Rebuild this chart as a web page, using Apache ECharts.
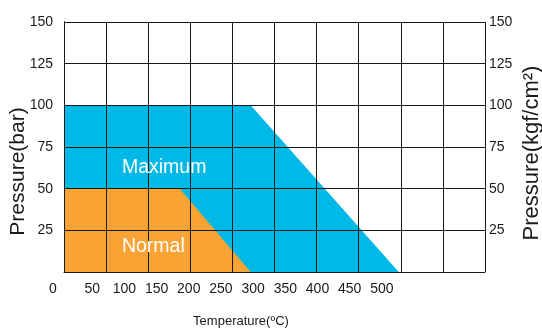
<!DOCTYPE html>
<html>
<head>
<meta charset="utf-8">
<script src="https://cdn.jsdelivr.net/npm/echarts@6/dist/echarts.min.js"></script>
<style>
  html, body { margin: 0; padding: 0; background: #fff; }
  #chart { width: 542px; height: 329px; }
</style>
</head>
<body>
<div id="chart"></div>
<script>
// Pressure / temperature rating envelope
const tempTicks = [0, 50, 100, 150, 200, 250, 300, 350, 400, 450, 500];
const pressureTicks = [25, 50, 75, 100, 125, 150];
// [temperature °C, pressure bar]
const maximumCurve = [[0, 100], [290, 100], [520, 0]];
const normalCurve = [[0, 50], [180, 50], [290, 0]];
const regionNames = ['Maximum', 'Normal'];
const gridColumns = 10;

const FONT = "'Liberation Sans', Arial, Helvetica, sans-serif";
const INK = '#1a1a1a';
const BLUE = '#00b9e6';
const ORANGE = '#f8a333';

const chart = echarts.init(document.getElementById('chart'), null, { renderer: 'canvas' });

const yAxisBase = {
  type: 'value',
  min: 0,
  max: 150,
  interval: 25,
  z: 5,
  axisTick: { show: false },
  axisLine: { show: true, lineStyle: { color: INK, width: 1 } },
  nameLocation: 'middle',
  nameMoveOverlap: false,
  nameTextStyle: { fontFamily: FONT, fontSize: 21, color: INK },
  axisLabel: {
    fontFamily: FONT,
    fontSize: 14,
    color: INK,
    formatter: v => (pressureTicks.includes(v) ? String(v) : '')
  }
};

const option = {
  animation: false,
  grid: { left: 64, right: 57, top: 22, bottom: 57, outerBoundsMode: 'none', containLabel: false },
  xAxis: [
    {
      type: 'value',
      min: 0,
      max: 654,
      interval: 50,
      position: 'bottom',
      z: 5,
      axisLine: { show: true, lineStyle: { color: INK, width: 1 } },
      axisTick: { show: false },
      splitLine: { show: false },
      axisLabel: {
        margin: 10,
        color: INK,
        fontFamily: FONT,
        fontSize: 14,
        formatter: v => {
          if (!tempTicks.includes(v)) return '';
          return v === 0 ? '{z|0}' : '{s|' + v + '}';
        },
        rich: {
          s: { fontFamily: FONT, fontSize: 14, color: INK, padding: [0, 8, 0, 0] },
          z: { fontFamily: FONT, fontSize: 14, color: INK, padding: [0, 22, 0, 0] }
        }
      },
      name: 'Temperature(ºC)',
      nameLocation: 'middle',
      nameMoveOverlap: false,
      nameGap: 43,
      nameTextStyle: { fontFamily: FONT, fontSize: 13, color: INK, padding: [0, 67, 0, 0] }
    },
    {
      // evenly spaced chart columns
      type: 'value',
      min: 0,
      max: gridColumns,
      interval: 1,
      position: 'bottom',
      z: 5,
      axisLine: { show: false },
      axisTick: { show: false },
      axisLabel: { show: false },
      splitLine: { show: true, lineStyle: { color: INK, width: 1 } }
    }
  ],
  yAxis: [
    Object.assign({}, yAxisBase, {
      position: 'left',
      name: 'Pressure(bar)',
      nameGap: 35,
      nameTextStyle: Object.assign({}, yAxisBase.nameTextStyle, { padding: [0, 49, 0, 0] }),
      splitLine: { show: true, lineStyle: { color: INK, width: 1 } },
      axisLabel: Object.assign({}, yAxisBase.axisLabel, { margin: 11 })
    }),
    Object.assign({}, yAxisBase, {
      position: 'right',
      name: 'Pressure(kgf/cm²)',
      nameGap: 36,
      nameTextStyle: Object.assign({}, yAxisBase.nameTextStyle, { fontSize: 22, padding: [0, 12, 0, 0] }),
      splitLine: { show: false },
      axisLabel: Object.assign({}, yAxisBase.axisLabel, { margin: 4 })
    })
  ],
  series: [
    {
      name: regionNames[0],
      type: 'line',
      xAxisIndex: 0,
      yAxisIndex: 0,
      data: maximumCurve,
      symbol: 'none',
      silent: true,
      lineStyle: { width: 0 },
      areaStyle: { color: BLUE, opacity: 1 },
      markPoint: {
        symbolSize: 0,
        silent: true,
        label: {
          show: true,
          position: 'right',
          distance: 0,
          formatter: regionNames[0],
          color: '#fff',
          fontFamily: FONT,
          fontSize: 19.5
        },
        data: [{ coord: [90, 62.5] }]
      }
    },
    {
      name: regionNames[1],
      type: 'line',
      xAxisIndex: 0,
      yAxisIndex: 0,
      data: normalCurve,
      symbol: 'none',
      silent: true,
      lineStyle: { width: 0 },
      areaStyle: { color: ORANGE, opacity: 1 },
      markPoint: {
        symbolSize: 0,
        silent: true,
        label: {
          show: true,
          position: 'right',
          distance: 0,
          formatter: regionNames[1],
          color: '#fff',
          fontFamily: FONT,
          fontSize: 19.5
        },
        data: [{ coord: [90, 15.2] }]
      }
    }
  ]
};

chart.setOption(option);
</script>
</body>
</html>
